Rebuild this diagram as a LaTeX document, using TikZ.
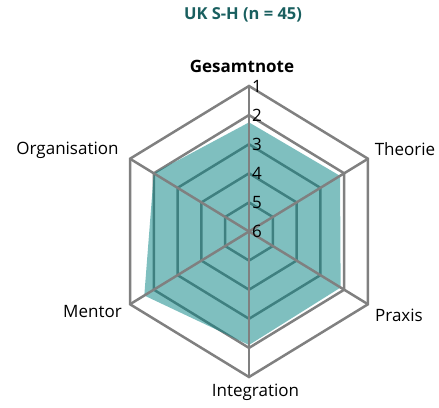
\documentclass[tikz,border=0pt]{standalone}
\usepackage{fontspec}
\setmainfont{Open Sans}
\usetikzlibrary{calc}
\definecolor{gridgray}{RGB}{128,128,128}
\definecolor{titleteal}{RGB}{25,95,95}
\definecolor{fillteal}{RGB}{0,128,128}
\begin{document}
\begin{tikzpicture}[x=1pt,y=1pt,
  gridline/.style={draw=gridgray,line width=2.5pt,line join=miter},
  datafill/.style={fill=fillteal,fill opacity=0.5},
  axislabel/.style={font=\fontsize{17}{19}\selectfont,text=black,inner sep=0pt},
  ticklabel/.style={font=\fontsize{17}{19}\selectfont,text=black,inner sep=0pt,anchor=west},
  titlelabel/.style={font=\fontsize{16.5}{19}\selectfont\bfseries,text=titleteal,inner sep=0pt},
  axistitle/.style={font=\fontsize{17}{19}\selectfont\bfseries,text=black,inner sep=0pt}]
\useasboundingbox (0,0) rectangle (439,407);
\coordinate (c) at (249,175.5);
\def\rx{137.4}\def\ry{145.5}
% rings
\foreach \k in {1,...,5}{
  \pgfmathsetmacro{\fr}{\k/5}
  \draw[gridline] ($(c)+(90:\fr*\rx pt and \fr*\ry pt)$)
    -- ($(c)+(30:\fr*\rx pt and \fr*\ry pt)$)
    -- ($(c)+(-30:\fr*\rx pt and \fr*\ry pt)$)
    -- ($(c)+(-90:\fr*\rx pt and \fr*\ry pt)$)
    -- ($(c)+(210:\fr*\rx pt and \fr*\ry pt)$)
    -- ($(c)+(150:\fr*\rx pt and \fr*\ry pt)$) -- cycle;
}
% data polygon
\path[datafill] ($(c)+(90:0.75*\rx pt and 0.75*\ry pt)$)
  -- ($(c)+(30:0.765*\rx pt and 0.765*\ry pt)$)
  -- ($(c)+(-30:0.77*\rx pt and 0.77*\ry pt)$)
  -- ($(c)+(-90:0.78*\rx pt and 0.78*\ry pt)$)
  -- ($(c)+(210:0.88*\rx pt and 0.88*\ry pt)$)
  -- ($(c)+(150:0.80*\rx pt and 0.80*\ry pt)$) -- cycle;
% spokes
\foreach \a/\n in {90/g,30/t,-30/p,-90/i,210/m,150/o}{
  \coordinate (end\n) at ($(c)+(\a:\rx pt and \ry pt)$);
  \draw[gridline] (c) -- (end\n);
}
% tick labels
\foreach \v in {1,...,6}{
  \pgfmathsetmacro{\yy}{175.5+(6-\v)/5*145.5}
  \node[ticklabel] (tick\v) at (252,\yy) {\v};
}
% titles and axis labels
\node[titlelabel] (title) at (243,392) {UK S-H (n = 45)};
\node[axistitle] (gesamt) at (242,341) {Gesamtnote};
\node[axislabel] (theorie) at (405,258) {Theorie};
\node[axislabel] (praxis) at (399,92) {Praxis};
\node[axislabel] (integration) at (255.5,15) {Integration};
\node[axislabel] (mentor) at (92.5,95) {Mentor};
\node[axislabel] (organisation) at (67.5,257) {Organisation};
\end{tikzpicture}
\end{document}
